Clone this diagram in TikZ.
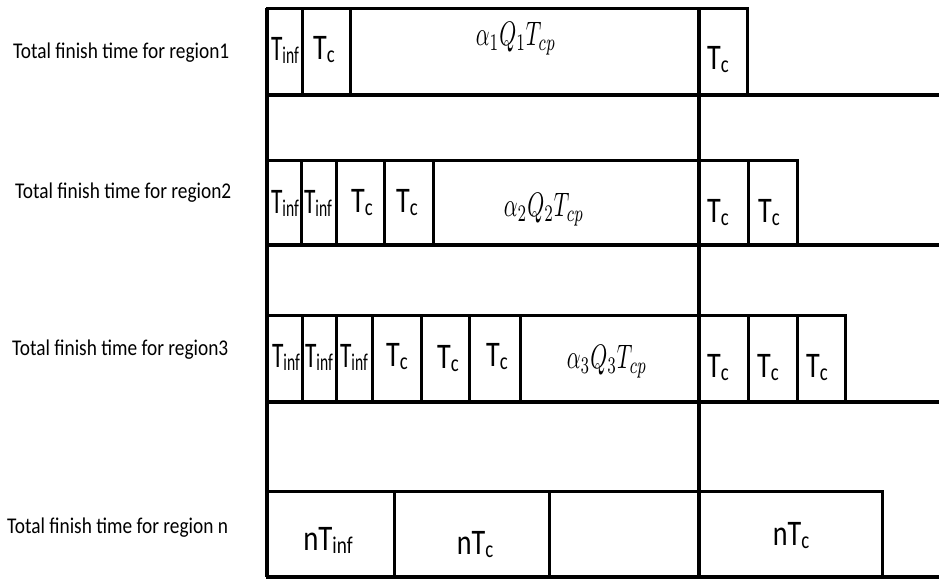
\documentclass[tikz,border=0pt]{standalone}
\usepackage{fontspec}
\setmainfont{Carlito}
\usepackage{graphicx}
\newcommand\subtxt[1]{\raisebox{-3pt}{\fontsize{24}{24}\selectfont #1}}
\newcommand\TcLbl{\scalebox{0.78}[1]{T\subtxt{c}}}
\newcommand\TinfLbl{\scalebox{0.65}[1]{T\subtxt{inf}}}
\newcommand\nTcLbl{\scalebox{0.78}[1]{nT\subtxt{c}}}
\newcommand\nTinfLbl{\scalebox{0.8}[1]{nT\subtxt{inf}}}
\newcommand\mathLbl[1]{\scalebox{2.15}[3.4]{$#1$}}
\newcommand\sideLbl[1]{\scalebox{0.86}[1]{#1}}
\tikzset{
  cell/.style={draw, line width=3pt},
  lbl/.style={inner sep=0pt, font=\fontsize{36}{36}\selectfont},
  mlbl/.style={inner sep=0pt, font=\normalsize},
  side/.style={inner sep=0pt, anchor=west, font=\fontsize{22.5}{22.5}\selectfont},
  base/.style={line width=4.5pt},
  axis/.style={line width=3.5pt}
}
\begin{document}
\begin{tikzpicture}[x=1pt,y=-1pt]
\useasboundingbox (0,0) rectangle (939,581);
% vertical lines
\draw[axis] (267,8) -- (267,577);
\draw[axis] (699,8) -- (699,578);
% row 1
\foreach \a/\b in {267/302,302/350,350/699,699/747}
  \draw[cell] (\a,8) rectangle (\b,95);
\draw[base] (267,95) -- (939,95);
% row 2
\foreach \a/\b in {267/301,301/336,336/384,384/433,433/699,699/748,748/797}
  \draw[cell] (\a,160) rectangle (\b,245);
\draw[base] (267,245) -- (939,245);
% row 3
\foreach \a/\b in {267/302,302/336,336/372,372/421,421/469,469/520,520/699,699/748,748/797,797/845}
  \draw[cell] (\a,315) rectangle (\b,402);
\draw[base] (267,402) -- (939,402);
% row n
\foreach \a/\b in {267/394,394/549,549/699,699/882}
  \draw[cell] (\a,491) rectangle (\b,577);
\draw[base] (267,577) -- (939,577);

% side labels
\node[side] (s1) at (13,53) {\sideLbl{Total finish time for region1}};
\node[side] (s2) at (15,193) {\sideLbl{Total finish time for region2}};
\node[side] (s3) at (12,350) {\sideLbl{Total finish time for region3}};
\node[side] (sn) at (7,528) {\sideLbl{Total finish time for region n}};

% row 1 labels
\node[lbl] (r1a) at (285,50) {\TinfLbl};
\node[lbl] (r1b) at (324,50) {\TcLbl};
\node[mlbl] (r1m) at (516,39) {\mathLbl{\alpha_1Q_1T_{cp}}};
\node[lbl] (r1c) at (718,60) {\TcLbl};

% row 2 labels
\node[lbl] (r2a) at (285,203) {\TinfLbl};
\node[lbl] (r2b) at (318,203) {\TinfLbl};
\node[lbl] (r2c) at (362,203) {\TcLbl};
\node[lbl] (r2d) at (407,203) {\TcLbl};
\node[mlbl] (r2m) at (544,210) {\mathLbl{\alpha_2Q_2T_{cp}}};
\node[lbl] (r2e) at (718,213) {\TcLbl};
\node[lbl] (r2f) at (769,213) {\TcLbl};

% row 3 labels
\node[lbl] (r3a) at (286,357) {\TinfLbl};
\node[lbl] (r3b) at (319,357) {\TinfLbl};
\node[lbl] (r3c) at (354,357) {\TinfLbl};
\node[lbl] (r3d) at (397,357) {\TcLbl};
\node[lbl] (r3e) at (448,359) {\TcLbl};
\node[lbl] (r3f) at (497,357) {\TcLbl};
\node[mlbl] (r3m) at (607,362) {\mathLbl{\alpha_3Q_3T_{cp}}};
\node[lbl] (r3g) at (718,368) {\TcLbl};
\node[lbl] (r3h) at (768,368) {\TcLbl};
\node[lbl] (r3i) at (817,368) {\TcLbl};

% row n labels
\node[lbl] (rna) at (328,540) {\nTinfLbl};
\node[lbl] (rnb) at (475,545) {\nTcLbl};
\node[lbl] (rnc) at (791,536) {\nTcLbl};
\end{tikzpicture}
\end{document}
